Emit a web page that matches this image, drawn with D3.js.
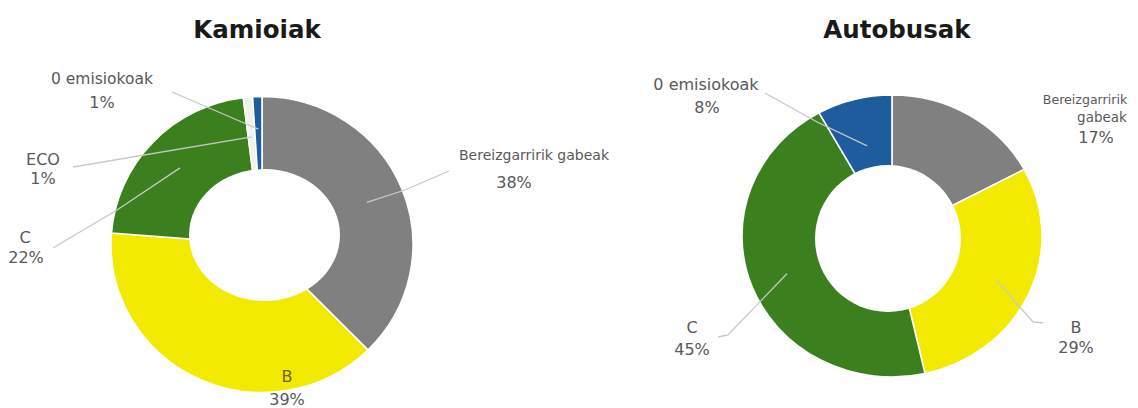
<!DOCTYPE html>
<html>
<head>
<meta charset="utf-8">
<script src="https://cdn.jsdelivr.net/npm/d3@7"></script>
<style>
  html, body { margin: 0; padding: 0; background: #ffffff; }
  svg { display: block; }
</style>
</head>
<body>
<svg id="chart" width="1138" height="408"></svg>
<script>
// Vehicle fleet by environmental label, trucks and buses
const truckCategories = ["Bereizgarririk gabeak", "B", "C", "ECO", "0 emisiokoak"];
const truckValues = [38, 39, 22, 1, 1];

const busCategories = ["Bereizgarririk gabeak", "B", "C", "0 emisiokoak"];
const busValues = [17, 29, 45, 8];

const chartTitles = ["Kamioiak", "Autobusak"];

// Colour per environmental label
const labelColors = {
  "Bereizgarririk gabeak": "#808080",
  "B": "#f2ea00",
  "C": "#3b7f1f",
  "ECO": "#eef4ea",
  "0 emisiokoak": "#1f5c9e"
};

const svg = d3.select("#chart");

// Layout of each donut: outer ellipse, inner hole, title and label placement
const layouts = [
  {
    title: chartTitles[0], categories: truckCategories, values: truckValues,
    cx: 262, cy: 244.5, rx: 151, ry: 148,
    hole: { cx: 264.5, cy: 235, rx: 75.5, ry: 66 },
    titleX: 257, titleY: 38,
    labels: {
      "0 emisiokoak": { lines: [{ dx: 102, dy: 84, size: 15.5 }, { dx: 102, dy: 108 }], line: [[172, 92]], k: 0.78 },
      "ECO": { lines: [{ dx: 43, dy: 165, size: 16 }, { dx: 43, dy: 184 }], line: [[73, 167]], k: 0.73 },
      "C": { lines: [{ dx: 25, dy: 243, size: 16 }, { dx: 26, dy: 263 }], line: [[53, 248], [117, 210]], k: 0.75 },
      "Bereizgarririk gabeak": { lines: [{ dx: 534, dy: 160, size: 14 }, { dx: 514, dy: 188 }], line: [[449, 171], [405, 190]], k: 0.75 },
      "B": { lines: [{ dx: 287, dy: 382, size: 16, color: "#6b6812" }, { dx: 287, dy: 405 }], line: null }
    }
  },
  {
    title: chartTitles[1], categories: busCategories, values: busValues,
    cx: 892, cy: 236, rx: 150, ry: 141,
    hole: { cx: 888, cy: 238.5, rx: 73, ry: 73.5 },
    titleX: 897, titleY: 38,
    labels: {
      "0 emisiokoak": { lines: [{ dx: 706, dy: 90, size: 16 }, { dx: 707, dy: 113 }], line: [[765, 93], [817, 122]], k: 0.66 },
      "Bereizgarririk gabeak": { lines: [{ dx: 1085, dy: 104, size: 12.6, split: 0 }, { dx: 1102, dy: 122, size: 13.5, split: 1 }, { dx: 1096, dy: 143 }], line: null },
      "B": { lines: [{ dx: 1076, dy: 333, size: 16 }, { dx: 1076, dy: 353 }], line: [[1043, 323], [1033, 322]], k: 0.77 },
      "C": { lines: [{ dx: 692, dy: 333, size: 16 }, { dx: 692, dy: 355 }], line: [[718, 337], [728, 335]], k: 0.75 }
    }
  }
];

const pie = d3.pie().sort(null).value(d => d.value);

layouts.forEach(L => {
  const data = L.categories.map((c, i) => ({ category: c, value: L.values[i] }));
  const arcs = pie(data);
  const sy = L.ry / L.rx;

  const g = svg.append("g");

  // Full pie scaled to the outer ellipse
  const arc = d3.arc().innerRadius(0).outerRadius(L.rx);
  g.append("g")
    .attr("transform", `translate(${L.cx},${L.cy}) scale(1,${sy})`)
    .selectAll("path")
    .data(arcs)
    .join("path")
    .attr("d", arc)
    .attr("fill", d => labelColors[d.data.category])
    .attr("stroke", "#ffffff")
    .attr("stroke-width", 1.6)
    .attr("vector-effect", "non-scaling-stroke");

  // Donut hole
  g.append("ellipse")
    .attr("cx", L.hole.cx).attr("cy", L.hole.cy)
    .attr("rx", L.hole.rx).attr("ry", L.hole.ry)
    .attr("fill", "#ffffff");

  // Title
  g.append("text")
    .attr("x", L.titleX).attr("y", L.titleY)
    .attr("text-anchor", "middle")
    .attr("font-family", "'DejaVu Sans', sans-serif")
    .attr("font-weight", "bold")
    .attr("font-size", 24.5)
    .attr("fill", "#1a1a1a")
    .text(L.title);

  // Leader lines and data labels
  arcs.forEach(d => {
    const spec = L.labels[d.data.category];
    if (!spec) return;
    if (spec.line) {
      const r = spec.k * L.rx;
      const c = d3.arc().innerRadius(r).outerRadius(r).centroid(d);
      const end = [L.cx + c[0], L.cy + c[1] * sy];
      g.append("path")
        .attr("d", d3.line()([...spec.line, end]))
        .attr("fill", "none")
        .attr("stroke", "#c8c8c8")
        .attr("stroke-width", 1.3);
    }
    const name = d.data.category;
    const words = name.split(" ");
    spec.lines.forEach((ln, i) => {
      let txt;
      const isPct = i === spec.lines.length - 1;
      if (isPct) txt = `${d.data.value}%`;
      else if (ln.split !== undefined) txt = words[ln.split];
      else txt = name;
      g.append("text")
        .attr("x", ln.dx).attr("y", ln.dy)
        .attr("text-anchor", "middle")
        .attr("font-family", "'DejaVu Sans', sans-serif")
        .attr("font-size", ln.size || 16)
        .attr("fill", ln.color || "#595959")
        .text(txt);
    });
  });
});
</script>
</body>
</html>
